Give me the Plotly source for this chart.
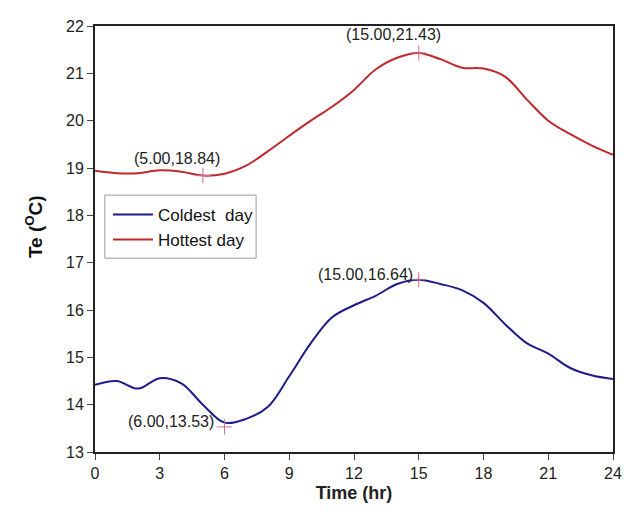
import plotly.graph_objects as go

hours = list(range(25))
coldest = [14.42, 14.50, 14.34, 14.56, 14.45, 14.00, 13.62, 13.70, 13.95, 14.60,
           15.30, 15.85, 16.10, 16.30, 16.55, 16.64, 16.55, 16.42, 16.15, 15.70,
           15.30, 15.08, 14.78, 14.62, 14.54]
hottest = [18.94, 18.89, 18.89, 18.95, 18.92, 18.84, 18.88, 19.05, 19.35, 19.68,
           20.00, 20.30, 20.65, 21.08, 21.33, 21.43, 21.30, 21.12, 21.10, 20.93,
           20.45, 20.00, 19.72, 19.48, 19.28]

mark_x = [5, 15, 6, 15]
mark_y = [18.84, 21.43, 13.53, 16.64]
mark_text = ["(5.00,18.84)", "(15.00,21.43)", "(6.00,13.53)", "(15.00,16.64)"]
label_pos = [(3.8, 19.2), (13.85, 21.83), (3.5, 13.64), (12.55, 16.74)]

x_ticks = [0, 3, 6, 9, 12, 15, 18, 21, 24]
y_ticks = [13, 14, 15, 16, 17, 18, 19, 20, 21, 22]

FONT = "Liberation Sans, Arial, sans-serif"

fig = go.Figure()
fig.add_trace(go.Scatter(x=hours, y=coldest, mode="lines", name="Coldest  day",
                         line=dict(color="#1c1c8a", width=2, shape="spline", smoothing=1.0)))
fig.add_trace(go.Scatter(x=hours, y=hottest, mode="lines", name="Hottest day",
                         line=dict(color="#c0282d", width=2, shape="spline", smoothing=1.0)))
fig.add_trace(go.Scatter(x=mark_x, y=mark_y, mode="markers", showlegend=False,
                         marker=dict(symbol="cross-thin", size=11,
                                     line=dict(color="#d0708f", width=1))))

for (lx, ly), t in zip(label_pos, mark_text):
    fig.add_annotation(x=lx, y=ly, text=t, showarrow=False, xref="x", yref="y",
                       font=dict(family=FONT, size=16, color="#222"))

# y-axis title
fig.add_annotation(x=-0.118, y=0.53, xref="paper", yref="paper", text="<b>Te (<sup>O</sup>C)</b>",
                   textangle=-90, showarrow=False, xanchor="center", yanchor="middle",
                   font=dict(family=FONT, size=19, color="#111"))

# legend frame
fig.add_shape(type="rect", xref="paper", yref="paper", x0=0.019, x1=0.311,
              y0=0.455, y1=0.603, line=dict(color="#999", width=1),
              fillcolor="white", layer="below")

fig.update_layout(
    width=634, height=512,
    margin=dict(l=95, r=15, t=26, b=60),
    plot_bgcolor="white", paper_bgcolor="white",
    font=dict(family=FONT, size=16, color="#222"),
    showlegend=True,
    legend=dict(x=0.025, y=0.599, xanchor="left", yanchor="top",
                bgcolor="rgba(0,0,0,0)", borderwidth=0,
                font=dict(family=FONT, size=17, color="#111"),
                tracegroupgap=0, itemwidth=40),
    xaxis=dict(range=[0, 24], tickvals=x_ticks, ticks="outside", ticklen=6,
               showline=True, linecolor="#222", linewidth=2, mirror=True,
               showgrid=False, zeroline=False,
               title=dict(text="<b>Time (hr)</b>", font=dict(size=18), standoff=5)),
    yaxis=dict(range=[13, 22], tickvals=y_ticks, ticks="outside", ticklen=6,
               showline=True, linecolor="#222", linewidth=2, mirror=True,
               showgrid=False, zeroline=False),
)

fig.write_html("out.html")
